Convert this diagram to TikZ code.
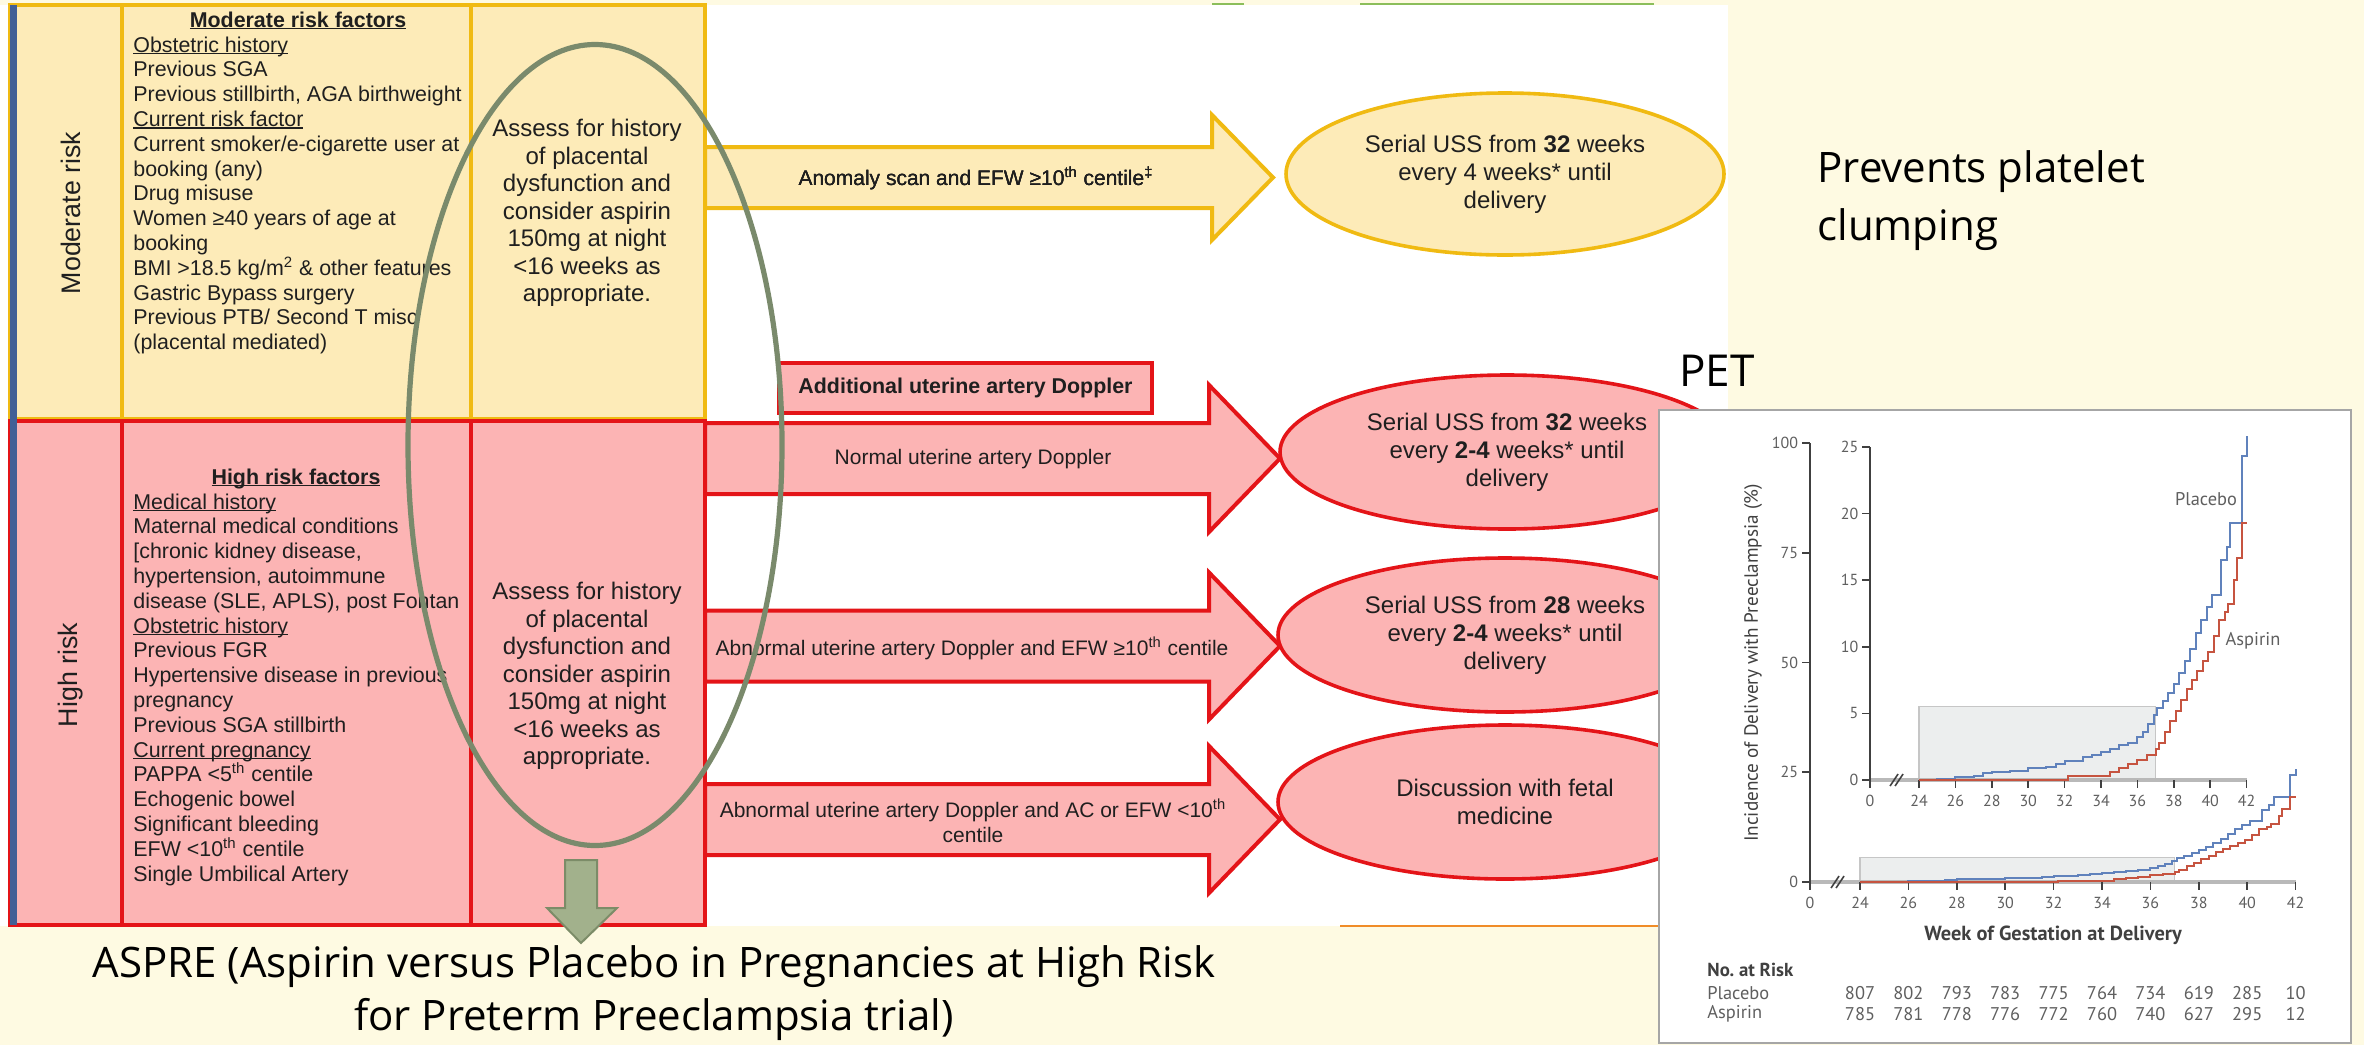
\documentclass[tikz,border=0pt]{standalone}
\usepackage{fontspec}
\setmainfont{Liberation Sans}
\newfontfamily\slidefont{Open Sans}
\newfontfamily\chartfont{PT Sans}
\usetikzlibrary{shapes.geometric}

\definecolor{slidecream}{RGB}{254,250,226}
\definecolor{modfill}{RGB}{253,235,184}
\definecolor{modline}{RGB}{240,186,18}
\definecolor{highfill}{RGB}{252,180,180}
\definecolor{highline}{RGB}{228,20,24}
\definecolor{sidebar}{RGB}{66,96,150}
\definecolor{ringgreen}{RGB}{122,138,108}
\definecolor{sagefill}{RGB}{162,177,140}
\definecolor{sageline}{RGB}{124,140,104}
\definecolor{placeboblue}{RGB}{96,130,188}
\definecolor{aspirinred}{RGB}{198,84,64}
\definecolor{chartgray}{RGB}{95,95,95}
\definecolor{boxgray}{RGB}{236,238,238}

\tikzstyle{every node}=[inner sep=0pt, text=black!88]
\tikzstyle{factor}=[anchor=base west]
\tikzstyle{factorhead}=[anchor=base, font=\fontsize{10.7}{12.4}\selectfont\bfseries]
\tikzstyle{risklabel}=[rotate=90, font=\fontsize{13.4}{15}\selectfont]
\tikzstyle{assess}=[align=center, font=\fontsize{12}{13.75}\selectfont]
\tikzstyle{flowtext}=[align=center, font=\fontsize{10.5}{12.4}\selectfont]
\tikzstyle{modcell}=[fill=modfill, draw=modline, line width=2pt]
\tikzstyle{highcell}=[fill=highfill, draw=highline, line width=2pt]
\tikzstyle{modarrow}=[fill=modfill, draw=modline, line width=2pt]
\tikzstyle{higharrow}=[fill=highfill, draw=highline, line width=2pt]
\tikzstyle{outcome}=[ellipse, line width=1.8pt, align=center, font=\fontsize{12}{14}\selectfont]
\tikzstyle{modoutcome}=[outcome, fill=modfill, draw=modline, minimum width=219pt, minimum height=81pt]
\tikzstyle{highoutcome}=[outcome, fill=highfill, draw=highline, minimum width=227pt, minimum height=77pt]
\tikzstyle{ringstyle}=[ellipse, draw=ringgreen, line width=2.6pt, minimum width=187pt, minimum height=400.5pt]
\tikzstyle{downarrow}=[fill=sagefill, draw=sageline, line width=1pt]
\tikzstyle{slidetext}=[font=\slidefont\fontsize{21}{26.5}\selectfont, text=black, align=center]
\tikzstyle{chartaxis}=[draw=black!75, line width=0.8pt]
\tikzstyle{xaxisline}=[draw=gray!55, line width=2pt]
\tikzstyle{ticklab}=[font=\chartfont\fontsize{8}{9}\selectfont, text=chartgray]
\tikzstyle{risklab}=[font=\chartfont\fontsize{9.2}{10}\selectfont, text=chartgray]
\tikzstyle{kmcurve}=[line width=1pt, const plot]

% block arrow: style, tail x, head base x, tip x, centre y, shaft half, head half
\newcommand\blockarrow[7]{%
	\draw[#1] (#2,#5-#6) -- (#3,#5-#6) -- (#3,#5-#7) -- (#4,#5)
	-- (#3,#5+#7) -- (#3,#5+#6) -- (#2,#5+#6) -- cycle;}
% underline close to the baseline
\newcommand\ulined[1]{\setbox0=\hbox{#1}\rlap{\rule[-1.2pt]{\wd0}{0.7pt}}\box0}

\begin{document}
\begin{tikzpicture}[x=0.5pt, y=-0.5pt, font=\fontsize{10.7}{12.4}\selectfont]
	\useasboundingbox (0,0) rectangle (2364,1045);
	%slide
	\fill[slidecream] (0,0) rectangle (2364,1045);
	\fill[white] (0,5) rectangle (1728,926);
	\draw[draw={rgb,255:red,140;green,190;blue,90}, line width=1pt]
	(1212,4) -- (1244,4) (1360,4) -- (1654,4);
	\draw[draw={rgb,255:red,240;green,140;blue,40}, line width=0.8pt] (1340,926) -- (1660,926);
	
	%rows
	\foreach \xa/\xb in {10/122, 122/471, 471/705}
	\draw[modcell] (\xa,5) rectangle (\xb,419);
	\foreach \xa/\xb in {10/122, 122/471, 471/705}
	\draw[highcell] (\xa,421) rectangle (\xb,925);
	\draw[sidebar, line width=3.5pt] (13.5,5) -- (13.5,925);
	
	%row labels
	\node[risklabel] (modlabel) at (71,213) {Moderate risk};
	\node[risklabel] (highlabel) at (71,675) {High risk};
	
	%moderate risk factors
	\node[factorhead] (modhead) at (298,27) {\ulined{Moderate risk factors}};
	\foreach \n/\t in {
		0/{\ulined{Obstetric history}},
		1/{Previous SGA},
		2/{Previous stillbirth, AGA birthweight},
		3/{\ulined{Current risk factor}},
		4/{Current smoker/e-cigarette user at},
		5/{booking (any)},
		6/{Drug misuse},
		7/{Women ≥40 years of age at},
		8/{booking},
		9/{BMI >18.5 kg/m\textsuperscript{2} \& other features},
		10/{Gastric Bypass surgery},
		11/{Previous PTB/ Second T misc},
		12/{(placental mediated)}
	}
	\node[factor] (mod\n) at (133,52+\n*24.8) {\t};
	
	%high risk factors
	\node[factorhead] (highhead) at (296,484) {\ulined{High risk factors}};
	\foreach \n/\t in {
		0/{\ulined{Medical history}},
		1/{Maternal medical conditions},
		2/{[chronic kidney disease,},
		3/{hypertension, autoimmune},
		4/{disease (SLE, APLS), post Fontan},
		5/{\ulined{Obstetric history}},
		6/{Previous FGR},
		7/{Hypertensive disease in previous},
		8/{pregnancy},
		9/{Previous SGA stillbirth},
		10/{\ulined{Current pregnancy}},
		11/{PAPPA <5\textsuperscript{th} centile},
		12/{Echogenic bowel},
		13/{Significant bleeding},
		14/{EFW <10\textsuperscript{th} centile},
		15/{Single Umbilical Artery}
	}
	\node[factor] (high\n) at (133,509+\n*24.8) {\t};
	
	%assessment
	\node[assess] (modassess) at (587,213) {Assess for history\\of placental\\dysfunction and\\consider aspirin\\150mg at night\\<16 weeks as\\appropriate.};
	\node[assess] (highassess) at (587,676) {Assess for history\\of placental\\dysfunction and\\consider aspirin\\150mg at night\\<16 weeks as\\appropriate.};
	
	%arrows
	\blockarrow{modarrow}{705}{1212}{1273}{177.5}{30.5}{62.5}
	\foreach \yc in {458.5, 646, 819.5}
	\blockarrow{higharrow}{705}{1209}{1280}{\yc}{35.5}{73.5}
	\node[flowtext] (anomaly) at (976,178) {Anomaly scan and EFW ≥10\textsuperscript{th} centile\textsuperscript{‡}};
	\node[flowtext] (normal) at (973,459) {Normal uterine artery Doppler};
	\node[flowtext] (abnormal) at (972,648) {Abnormal uterine artery Doppler and EFW ≥10\textsuperscript{th} centile};
	\node[flowtext] (abnormalsga) at (973,821) {Abnormal uterine artery Doppler and AC or EFW <10\textsuperscript{th}\\centile};
	\node[draw=highline, fill=highfill, line width=2pt, minimum width=186.5pt, minimum height=25pt,
	font=\fontsize{10.7}{12.4}\selectfont\bfseries] (additional) at (965.5,388) {Additional uterine artery Doppler};
	
	%outcomes
	\node[modoutcome] (modscan) at (1505,174) {Serial USS from \textbf{32} weeks\\every 4 weeks* until\\delivery};
	\node[highoutcome] (normalscan) at (1507,452) {Serial USS from \textbf{32} weeks\\every \textbf{2-4} weeks* until\\delivery};
	\node[highoutcome] (abnormalscan) at (1505,635) {Serial USS from \textbf{28} weeks\\every \textbf{2-4} weeks* until\\delivery};
	\node[highoutcome] (fmu) at (1505,802) {Discussion with fetal\\medicine};
	
	%aspirin ring and arrow
	\node[ringstyle] (aspirinring) at (595,445) {};
	\draw[downarrow] (565,860) -- (597,860) -- (597,908) -- (617,908) -- (581,943)
	-- (547,908) -- (565,908) -- cycle;
	
	%chart
	\draw[draw=gray!70, line width=0.8pt, fill=white] (1659,410) rectangle (2351,1043);
	\foreach \ox/\oy/\sx/\sy/\zw/\bw/\top/\dy in {
		1482.2/780/9.1/6.66/21.31/22.74/25/5,
		1279.2/882/12.1/2.195/21.93/23.05/100/25}
	{
		\begin{scope}[shift={(\ox,\oy)}, x=\sx pt, y=\sy pt]
			\draw[fill=boxgray, draw=gray!45, line width=0.6pt] (24,0) rectangle (37,5.5);
			%axis
			\draw[xaxisline] (\zw,0) -- (42,0);
			\draw[chartaxis] (\zw,0) -- (\zw,\top);
			%ticks
			\foreach \p in {0,\dy,...,\top}
			\draw[chartaxis] (\zw,\p) -- ++(-4pt,0pt)
			node[ticklab, anchor=east, xshift=-1.5pt] (ytick\top-\p) {\p};
			\draw[chartaxis] (\zw,0) -- ++(0pt,-4pt);
			\node[ticklab] (xtick\top-0) at ([yshift=-10.5pt]\zw,0) {0};
			\foreach \w in {24,26,...,42}
			{
				\draw[chartaxis] (\w,0) -- ++(0pt,-4pt);
				\node[ticklab] (xtick\top-\w) at ([yshift=-10.5pt]\w,0) {\w};
			}
			\draw[chartaxis] ([xshift=-3pt,yshift=-3pt]\bw,0) -- ([xshift=1pt,yshift=3pt]\bw,0);
			\draw[chartaxis] ([xshift=-0.5pt,yshift=-3pt]\bw,0) -- ([xshift=3.5pt,yshift=3pt]\bw,0);
			%plots
			\draw[kmcurve, placeboblue] plot coordinates{(24,0) (25,0.1) (26,0.2) (27,0.3)
				(27.5,0.5) (28,0.6) (29,0.7) (30,0.9) (31,1.0) (31.5,1.2) (32,1.4) (33,1.7)
				(33.5,1.9) (34,2.1) (34.5,2.3) (35,2.6) (35.5,2.8) (36,3.2) (36.3,3.6)
				(36.6,4.2) (36.9,4.9) (37.1,5.4) (37.4,5.9) (37.7,6.5) (38,7.2) (38.3,8.0)
				(38.6,8.9) (38.9,9.8) (39.2,11.0) (39.5,12.0) (39.8,13.0) (40.1,13.9)
				(40.6,16.5) (40.9,17.5) (41.1,19.3) (41.75,24.3) (42,25.8)};
			\draw[kmcurve, aspirinred] plot coordinates{(24,0) (32.2,0.3) (34.5,0.6)
				(35,0.9) (35.5,1.2) (36,1.5) (36.5,1.9) (37,2.3) (37.2,2.8) (37.5,3.6)
				(37.8,4.4) (38.1,5.2) (38.4,6.0) (38.7,6.8) (39.0,7.5) (39.3,8.2) (39.6,8.9)
				(39.9,9.6) (40.2,10.8) (40.5,12.0) (40.8,12.6) (41.0,13.2) (41.3,15.0)
				(41.45,16.7) (41.75,19.3) (42,19.3)};
		\end{scope}
	}
	%chart labels
	\node[risklab] (placebolab) at (2206,499) {Placebo};
	\node[risklab] (aspirinlab) at (2253,641) {Aspirin};
	\node[risklab, rotate=90, text=black!75, font=\chartfont\fontsize{9.6}{10}\selectfont] (ylabel) at (1753,663) {Incidence of Delivery with Preeclampsia (\%)};
	\node[font=\chartfont\fontsize{10.2}{11}\selectfont\bfseries, text=black!75] (xlabel) at (2053,935) {Week of Gestation at Delivery};
	\node[font=\chartfont\fontsize{9.4}{10}\selectfont\bfseries, text=black!75, anchor=west] (atrisk) at (1707,970) {No.\ at Risk};
	\node[risklab, anchor=west] (placeborow) at (1707,993) {Placebo};
	\node[risklab, anchor=west] (aspirinrow) at (1707,1014) {Aspirin};
	\foreach \w/\a/\b in {24/807/785, 26/802/781, 28/793/778, 30/783/776, 32/775/772,
		34/764/760, 36/734/740, 38/619/627, 40/285/295, 42/10/12}
	{
		\node[risklab] (placebo\w) at (1860+\w*24.2-580.8,993) {\a};
		\node[risklab] (aspirin\w) at (1860+\w*24.2-580.8,1014) {\b};
	}
	
	%slide texts
	\node[slidetext] (aspre) at (654,993) {ASPRE (Aspirin versus Placebo in Pregnancies at High Risk\\for Preterm Preeclampsia trial)};
	\node[font=\slidefont\fontsize{21}{29}\selectfont, text=black, align=left, anchor=north west] (platelet) at (1817,150) {Prevents platelet\\clumping};
	\node[font=\slidefont\fontsize{22}{26}\selectfont, text=black] (pet) at (1717,371) {PET};
\end{tikzpicture}
\end{document}
